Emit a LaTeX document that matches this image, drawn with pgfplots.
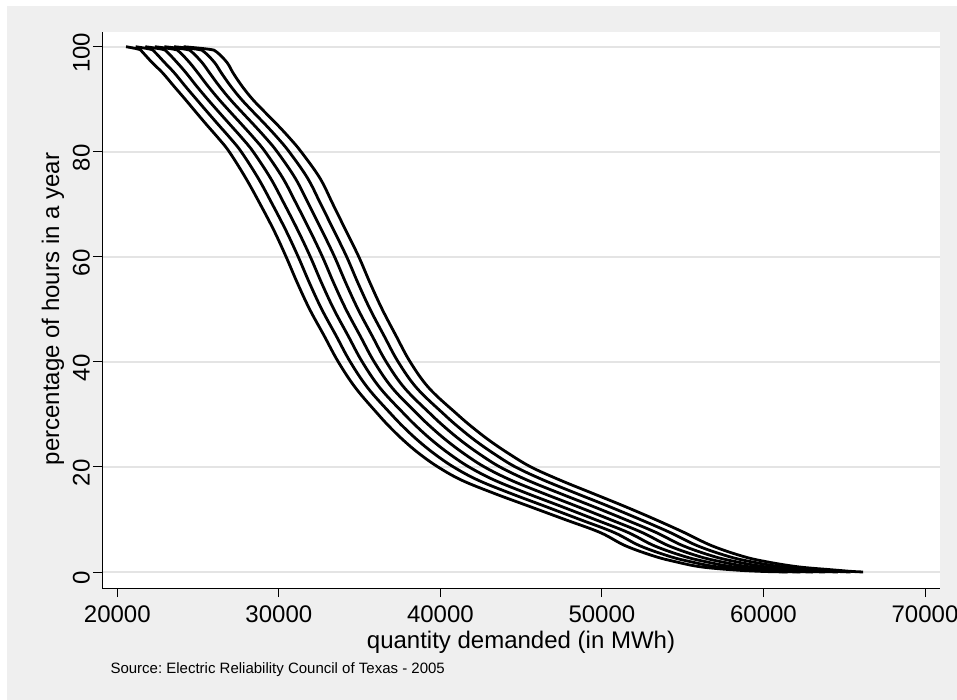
\documentclass[border=0pt]{standalone}
\usepackage{pgfplots}
\usepackage{pgfplotstable}
\pgfplotsset{compat=1.18}
\usepackage{fontspec}
\setmainfont{Liberation Sans}
\definecolor{bggray}{RGB}{239,239,239}
\definecolor{gridgray}{RGB}{228,228,228}

\pgfplotstableread{
y     c0    c1    c2    c3    c4    c5    c6
100   20540 21133 21727 22320 22913 23507 24100
99.5  21350 22075 22800 23525 24250 24975 25700
99    21550 22317 23083 23850 24617 25383 26150
97    22150 22923 23697 24470 25243 26017 26790
95    22810 23537 24263 24990 25717 26443 27170
92.5  23500 24203 24907 25610 26313 27017 27720
90    24200 24895 25590 26285 26980 27675 28370
87.5  24880 25592 26303 27015 27727 28438 29150
85    25570 26300 27030 27760 28490 29220 29950
82.5  26280 27017 27753 28490 29227 29963 30700
80    26930 27672 28413 29155 29897 30638 31380
75    27950 28715 29480 30245 31010 31775 32540
70    28850 29600 30350 31100 31850 32600 33350
65    29700 30442 31183 31925 32667 33408 34150
60    30450 31200 31950 32700 33450 34200 34950
55    31150 31900 32650 33400 34150 34900 35650
50    31910 32658 33407 34155 34903 35652 36400
45    32800 33542 34283 35025 35767 36508 37250
40    33680 34422 35163 35905 36647 37388 38130
35    34760 35517 36273 37030 37787 38543 39300
30    36150 36967 37783 38600 39417 40233 41050
27.5  36900 37750 38600 39450 40300 41150 42000
25    37740 38625 39510 40395 41280 42165 43050
22.5  38700 39625 40550 41475 42400 43325 44250
20    39850 40808 41767 42725 43683 44642 45600
17.5  41300 42317 43333 44350 45367 46383 47400
15    43300 44317 45333 46350 47367 48383 49400
12.5  45500 46483 47467 48450 49433 50417 51400
10    47700 48633 49567 50500 51433 52367 53300
7.5   49900 50767 51633 52500 53367 54233 55100
5     51450 52342 53233 54125 55017 55908 56800
3     53250 54158 55067 55975 56883 57792 58700
2     54490 55425 56360 57295 58230 59165 60100
1     56070 57075 58080 59085 60090 61095 62100
0.4   58130 59158 60187 61215 62243 63272 64300
0.1   60000 60917 61833 62750 63667 64583 65500
0     61500 62278 63057 63835 64613 65392 66170
}\curves

\begin{document}
\frenchspacing
\begin{tikzpicture}[x=1pt,y=1pt]
\useasboundingbox (0,0) rectangle (957,-700);
\fill[white] (0,0) rectangle (957,-700);
\fill[bggray] (7,-6) rectangle (960,-700);
\begin{axis}[
  at={(102pt,-588pt)}, anchor=south west,
  scale only axis, width=838pt, height=556pt,
  xmin=19053, xmax=70929, ymin=-3.05, ymax=102.8,
  axis x line*=bottom, axis y line*=left,
  axis line style={line width=1pt, black, -},
  axis background/.style={fill=white},
  xtick={20000,30000,40000,50000,60000,70000},
  ytick={0,20,40,60,80,100},
  tick align=outside, major tick length=9pt,
  tick style={line width=0.9pt, black},
  ymajorgrids, grid style={gridgray, line width=1.6pt},
  scaled x ticks=false,
  /pgf/number format/assume math mode=true,
  /pgf/number format/set thousands separator={},
  ticklabel style={font=\fontsize{24}{28}\selectfont, inner sep=3pt},
  xticklabel style={yshift=-6pt},
  yticklabel style={rotate=90, anchor=south, xshift=-6pt},
]
\foreach \c in {c0,c1,c2,c3,c4,c5,c6}{
  \addplot[black, line width=2.8pt, smooth, tension=0.6] table[x=\c, y=y] {\curves};
}
\end{axis}
\node[rotate=90, anchor=base, font=\fontsize{24}{28}\selectfont] at (59,-309) {percentage of hours in a year};
\node[anchor=base, font=\fontsize{24}{28}\selectfont] at (521,-648) {quantity demanded (in MWh)};
\node[anchor=base west, font=\fontsize{15}{18}\selectfont] at (107,-673) {Source: Electric Reliability Council of Texas - 2005};
\end{tikzpicture}
\end{document}
